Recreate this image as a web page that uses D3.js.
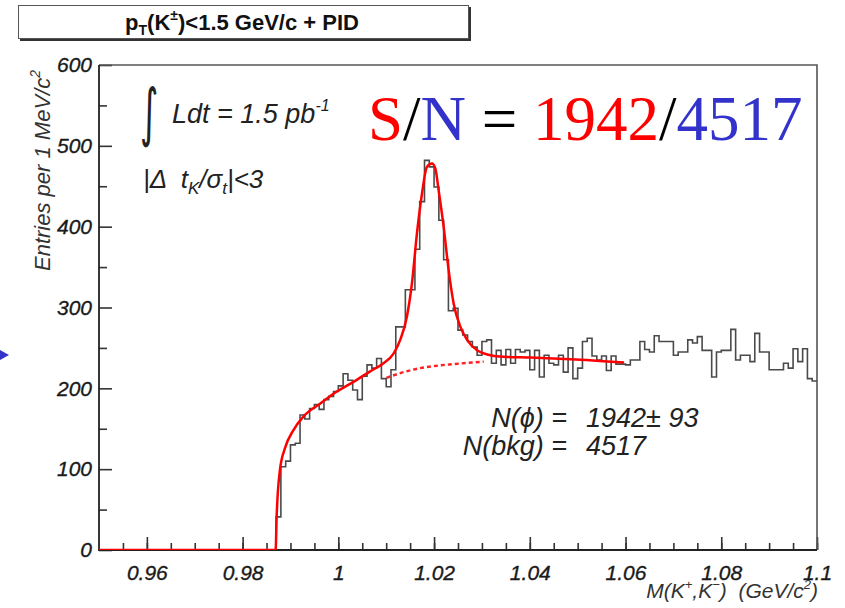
<!DOCTYPE html>
<html>
<head>
<meta charset="utf-8">
<script src="https://cdn.jsdelivr.net/npm/d3@7/dist/d3.min.js"></script>
<style>
  body { margin: 0; background: #fff; }
  svg { display: block; font-family: "Liberation Sans", Arial, Helvetica, sans-serif; }
</style>
</head>
<body>
<svg id="chart" width="845" height="608"></svg>
<script>
// histogram: 1 MeV bins from 0.95 to 1.10 GeV/c^2
const binStart = 0.95
const binWidth = 0.001
const counts = [
  0, 0, 0, 0, 0, 0, 0, 0, 0, 0, 0, 0, 0, 0, 0, 0, 0, 0, 0, 0,
  0, 0, 0, 0, 0, 0, 0, 0, 0, 0, 0, 0, 0, 0, 0, 0, 0, 41, 103, 110,
  130, 132, 167, 162, 175, 180, 174, 186, 190, 196, 203, 218, 210, 198, 186, 215, 229, 225, 237, 212,
  202, 223, 276, 276, 322, 322, 372, 431, 482, 474, 449, 408, 359, 296, 299, 272, 266, 258, 251, 241,
  258, 260, 231, 247, 229, 248, 231, 248, 245, 247, 223, 247, 214, 241, 231, 229, 241, 220, 250, 212,
  225, 258, 262, 240, 235, 240, 222, 240, 230, 230, 229, 235, 235, 258, 248, 245, 265, 258, 258, 258,
  241, 245, 245, 260, 256, 264, 247, 247, 214, 245, 247, 247, 273, 235, 241, 241, 233, 268, 245, 245,
  223, 223, 223, 231, 225, 249, 233, 249, 212, 209
]

// fitted function (signal + background)
const fitMass = [0.95, 0.9869, 0.98711, 0.9878, 0.98885, 0.99059, 0.99268, 0.99618, 0.99967, 1.00315,
  1.00665, 1.00944, 1.01153, 1.01293, 1.01433, 1.01538, 1.01643, 1.01748, 1.01852, 1.01957,
  1.02026, 1.02095, 1.022, 1.02305, 1.02409, 1.0255, 1.0269, 1.02899, 1.03178, 1.03457,
  1.04016, 1.04854, 1.0597]
const fitValue = [0, 0, 41, 99, 126, 148, 165, 181, 196, 208,
  221, 231, 243, 260, 289, 330, 392, 441, 474, 478,
  472, 445, 400, 346, 305, 276, 260, 247, 241, 239,
  238, 236, 232]

// background component under the peak (dashed)
const bgMass = [1.01004, 1.01363, 1.01712, 1.02062, 1.0241, 1.03038]
const bgValue = [213, 220, 225, 228, 230, 233]

const xMajor = [0.96, 0.98, 1, 1.02, 1.04, 1.06, 1.08, 1.1]
const xMajorLabels = ['0.96', '0.98', '1', '1.02', '1.04', '1.06', '1.08', '1.1']
const xMinor = d3.range(0.955, 1.1, 0.005)
const yMajor = [0, 100, 200, 300, 400, 500, 600]
const yMinor = [50, 150, 250, 350, 450, 550]

const margin = { left: 99, right: 817, top: 65, bottom: 550 }
const svg = d3.select('#chart')

const x = d3.scaleLinear().domain([0.95, 1.1]).range([margin.left, margin.right])
const y = d3.scaleLinear().domain([0, 600]).range([margin.bottom, margin.top])

svg.append('defs').append('clipPath').attr('id', 'plotClip')
  .append('rect')
  .attr('x', margin.left).attr('y', margin.top - 2)
  .attr('width', margin.right - margin.left).attr('height', margin.bottom - margin.top + 2)

// title box with shadow
const titleG = svg.append('g')
titleG.append('rect').attr('x', 20).attr('y', 7).attr('width', 451).attr('height', 34).attr('fill', '#333')
titleG.append('rect').attr('x', 18.5).attr('y', 5.5).attr('width', 450).attr('height', 33)
  .attr('fill', '#fff').attr('stroke', '#555').attr('stroke-width', 1)
const titleText = titleG.append('text')
  .attr('x', 242).attr('y', 30)
  .attr('text-anchor', 'middle')
  .attr('font-size', 22).attr('font-weight', 'bold').attr('fill', '#111')
titleText.append('tspan').text('p')
titleText.append('tspan').attr('font-size', 14).attr('dy', 5).text('T')
titleText.append('tspan').attr('dy', -5).text('(K')
titleText.append('tspan').attr('font-size', 14).attr('dy', -10).text('±')
titleText.append('tspan').attr('dy', 10).text(')<1.5 GeV/c + PID')

// axes
const xAxisMajor = d3.axisBottom(x).tickValues(xMajor).tickSize(-13).tickPadding(15)
  .tickFormat((d, i) => xMajorLabels[i])
const xAxisMinor = d3.axisBottom(x).tickValues(xMinor).tickSize(-7).tickFormat('')
const yAxisMajor = d3.axisLeft(y).tickValues(yMajor).tickSize(-13).tickPadding(7)
const yAxisMinor = d3.axisLeft(y).tickValues(yMinor).tickSize(-8).tickFormat('')

const axisStyle = g => {
  g.select('.domain').remove()
  g.selectAll('.tick line').attr('stroke', '#333').attr('stroke-width', 1.6)
  g.selectAll('.tick text')
    .attr('font-family', '"Liberation Sans", Arial, sans-serif')
    .attr('font-size', 21).attr('font-style', 'italic')
    .attr('fill', '#1a1a1a').attr('stroke', '#1a1a1a').attr('stroke-width', 0.35)
}
svg.append('g').attr('transform', `translate(0,${margin.bottom})`).call(xAxisMinor).call(axisStyle)
svg.append('g').attr('transform', `translate(0,${margin.bottom})`).call(xAxisMajor).call(axisStyle)
svg.append('g').attr('transform', `translate(${margin.left},0)`).call(yAxisMinor).call(axisStyle)
svg.append('g').attr('transform', `translate(${margin.left},0)`).call(yAxisMajor).call(axisStyle)

// frame
svg.append('path')
  .attr('d', `M${margin.left},${margin.top}H${margin.right}V${margin.bottom}`)
  .attr('fill', 'none').attr('stroke', '#555').attr('stroke-width', 1.6)
svg.append('path')
  .attr('d', `M${margin.left},${margin.top}V${margin.bottom}H${margin.right}`)
  .attr('fill', 'none').attr('stroke', '#222').attr('stroke-width', 1.8)

const plot = svg.append('g').attr('clip-path', 'url(#plotClip)')

// histogram outline
const histPoints = counts.map((c, i) => [binStart + i * binWidth, c])
histPoints.push([binStart + counts.length * binWidth, counts[counts.length - 1]])
const histLine = d3.line().x(d => x(d[0])).y(d => y(d[1])).curve(d3.curveStepAfter)
plot.append('path')
  .datum(histPoints)
  .attr('d', histLine)
  .attr('fill', 'none').attr('stroke', '#4a4a4a').attr('stroke-width', 1.6)

// fit curves
const curve = d3.line().x(d => x(d[0])).y(d => y(d[1])).curve(d3.curveMonotoneX)
plot.append('path')
  .datum(bgMass.map((m, i) => [m, bgValue[i]]))
  .attr('d', curve)
  .attr('fill', 'none').attr('stroke', '#f22').attr('stroke-width', 2.4)
  .attr('stroke-dasharray', '4,3')
plot.append('path')
  .datum(fitMass.map((m, i) => [m, fitValue[i]]))
  .attr('d', curve)
  .attr('fill', 'none').attr('stroke', '#f00').attr('stroke-width', 2.5)

// axis titles
const yTitle = svg.append('text')
  .attr('transform', 'translate(50,70) rotate(-90)')
  .attr('text-anchor', 'end')
  .attr('font-size', 22).attr('font-style', 'italic').attr('fill', '#333')
yTitle.append('tspan').text('Entries per 1 MeV/c')
yTitle.append('tspan').attr('font-size', 14).attr('dy', -10).text('2')

const xTitle = svg.append('text')
  .attr('x', 818).attr('y', 598)
  .attr('text-anchor', 'end')
  .attr('font-size', 21).attr('font-style', 'italic').attr('fill', '#333')
xTitle.append('tspan').text('M(K')
xTitle.append('tspan').attr('font-size', 13).attr('dy', -9).text('+')
xTitle.append('tspan').attr('dy', 9).text(',K')
xTitle.append('tspan').attr('font-size', 13).attr('dy', -9).text('−')
xTitle.append('tspan').attr('dy', 9).style('white-space', 'pre').text(')  (GeV/c')
xTitle.append('tspan').attr('font-size', 13).attr('dy', -9).text('2')
xTitle.append('tspan').attr('dy', 9).text(')')

// luminosity and cut labels
svg.append('text')
  .attr('transform', 'translate(140,134) scale(0.75,1.35)')
  .attr('font-family', '"DejaVu Sans", sans-serif')
  .attr('font-size', 47).attr('fill', '#222')
  .text('∫')
const lumi = svg.append('text')
  .attr('x', 172).attr('y', 123)
  .attr('font-size', 27).attr('font-style', 'italic').attr('fill', '#222')
lumi.append('tspan').text('Ldt = 1.5 pb')
lumi.append('tspan').attr('font-size', 16).attr('dy', -12).text('-1')

const cut = svg.append('text')
  .attr('x', 143).attr('y', 188)
  .attr('font-size', 26).attr('font-style', 'italic').attr('fill', '#222')
  .style('white-space', 'pre')
cut.append('tspan').text('|Δ  t')
cut.append('tspan').attr('font-size', 17).attr('dy', 6).text('K')
cut.append('tspan').attr('dy', -6).text('/σ')
cut.append('tspan').attr('font-size', 17).attr('dy', 6).text('t')
cut.append('tspan').attr('dy', -6).text('|<3')

// S/N ratio
const sn = svg.append('text')
  .attr('x', 368).attr('y', 140)
  .attr('font-family', '"Liberation Serif", "Times New Roman", serif')
  .attr('font-size', 63)
const snParts = [['S', '#f00'], ['/', '#000'], ['N', '#3333cc'], [' = ', '#000'],
  ['1942', '#f00'], ['/', '#000'], ['4517', '#3333cc']]
sn.selectAll('tspan').data(snParts).join('tspan')
  .attr('fill', d => d[1])
  .style('white-space', 'pre')
  .text(d => d[0])

// yields
const yields = [['N(ϕ) =', '1942± 93', 427], ['N(bkg) =', '4517', 455]]
yields.forEach(([label, value, base]) => {
  svg.append('text').attr('x', 567).attr('y', base).attr('text-anchor', 'end')
    .attr('font-size', 27).attr('font-style', 'italic').attr('fill', '#222').text(label)
  svg.append('text').attr('x', 586).attr('y', base)
    .attr('font-size', 27).attr('font-style', 'italic').attr('fill', '#222').text(value)
})

// blue arrow tip at the left edge
svg.append('path').attr('d', 'M0,350L9,355L0,360Z').attr('fill', '#3333cc')
</script>
</body>
</html>
